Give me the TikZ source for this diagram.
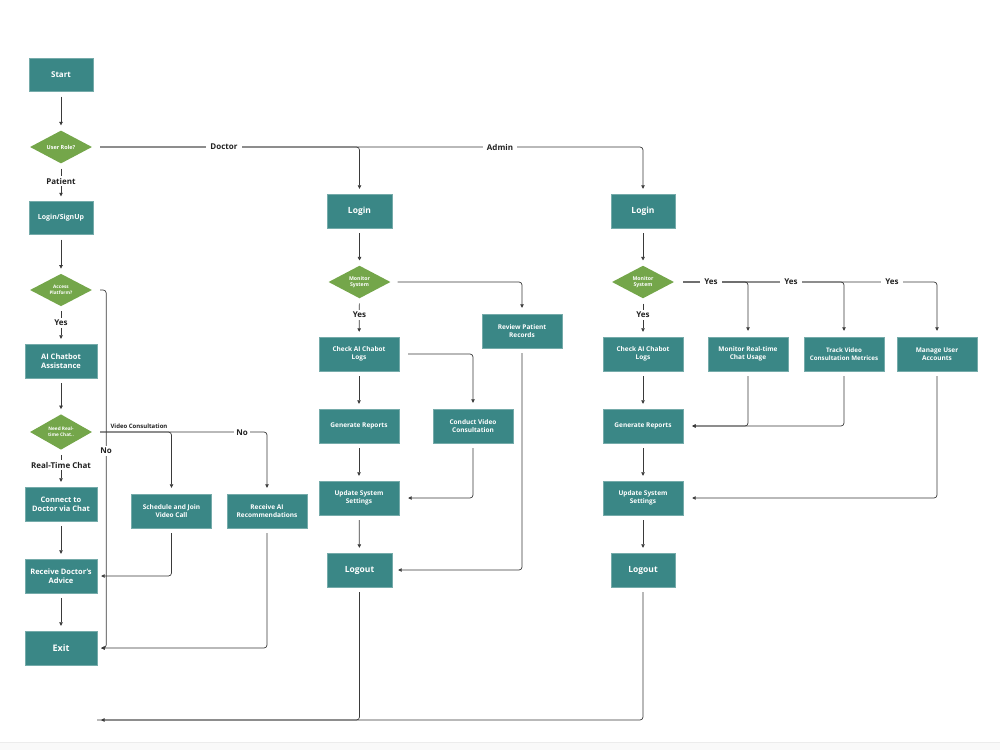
\documentclass[tikz,border=0pt]{standalone}
\usepackage{fontspec}
\setmainfont{Open Sans}
\usetikzlibrary{shapes.geometric,arrows.meta}
\definecolor{teal1}{HTML}{3A8786}
\definecolor{green1}{HTML}{74A64A}
\definecolor{linecol}{HTML}{3A3A3A}
\definecolor{lblcol}{HTML}{222222}
\tikzset{
  box/.style={rectangle, fill=teal1, draw=teal1!70!white, line width=0.4pt, text=white, align=center, inner sep=1pt, minimum height=34pt, font=\fontsize{6.5}{8.2}\selectfont\bfseries},
  dia/.style={diamond, fill=green1, text=white, align=center, inner sep=0pt, minimum width=62pt, minimum height=32pt, font=\fontsize{5.2}{6.5}\selectfont\bfseries},
  conn/.style={draw=linecol, line width=0.7pt, -{Triangle[length=3.5pt,width=3.5pt]}, rounded corners=3pt, shorten >=5pt, shorten <=5pt},
  lbl/.style={fill=white, text=lblcol, inner sep=2pt, font=\fontsize{8}{10}\selectfont\bfseries},
}
\begin{document}
\begin{tikzpicture}[x=1pt,y=-1pt]
\path[use as bounding box] (0,0) rectangle (1000,750);
\fill[gray!5] (0,742) rectangle (1000,750);
\draw[gray!15,line width=0.5pt] (0,742) -- (1000,742);

% Patient column
\node[box,minimum width=64pt,minimum height=33pt,font=\fontsize{8}{10}\selectfont\bfseries] (start) at (61,75) {Start};
\node[dia,font=\fontsize{5.5}{7}\selectfont\bfseries] (role) at (61,147) {User Role?};
\node[box,minimum width=64pt,minimum height=33pt,font=\fontsize{7}{9}\selectfont\bfseries] (login1) at (61,218) {Login/SignUp};
\node[dia,font=\fontsize{4.7}{6}\selectfont\bfseries] (access) at (61,290) {Access\\Platform?};
\node[box,minimum width=72pt,font=\fontsize{7.5}{9.3}\selectfont\bfseries] (chat) at (61,361) {AI Chatbot\\Assistance};
\node[dia,font=\fontsize{4.7}{6}\selectfont\bfseries] (needrt) at (61,432) {Need Real-\\time Chat..};
\node[box,minimum width=72pt,font=\fontsize{7.5}{9.3}\selectfont\bfseries] (connect) at (61,504) {Connect to\\Doctor via Chat};
\node[box,minimum width=72pt,font=\fontsize{7.5}{9.3}\selectfont\bfseries] (advice) at (61,576) {Receive Doctor’s\\Advice};
\node[box,minimum width=72pt,font=\fontsize{9}{11}\selectfont\bfseries] (exit) at (61,648) {Exit};
\node[box,minimum width=80pt] (sched) at (171.5,511) {Schedule and Join\\Video Call};
\node[box,minimum width=80pt] (airec) at (267,511) {Receive AI\\Recommendations};

% Doctor column
\node[box,minimum width=65pt,font=\fontsize{8.5}{11}\selectfont\bfseries] (dlogin) at (359.5,211) {Login};
\node[dia] (dmon) at (359.5,282) {Monitor\\System};
\node[box,minimum width=80pt] (dcheck) at (359,354) {Check AI Chabot\\Logs};
\node[box,minimum width=80pt] (dreview) at (522,331) {Review Patient\\Records};
\node[box,minimum width=80pt] (dgen) at (359,426) {Generate Reports};
\node[box,minimum width=80pt] (dconduct) at (473,426) {Conduct Video\\Consultation};
\node[box,minimum width=80pt] (dupdate) at (359,498) {Update System\\Settings};
\node[box,minimum width=65pt,font=\fontsize{8.5}{11}\selectfont\bfseries] (dlogout) at (359.5,570) {Logout};

% Admin column
\node[box,minimum width=64pt,font=\fontsize{8.5}{11}\selectfont\bfseries] (alogin) at (643,211) {Login};
\node[dia] (amon) at (643,282) {Monitor\\System};
\node[box,minimum width=80pt] (acheck) at (643,354) {Check AI Chabot\\Logs};
\node[box,minimum width=80pt] (amrt) at (748,354) {Monitor Real-time\\Chat Usage};
\node[box,minimum width=80pt,font=\fontsize{6.2}{8.2}\selectfont\bfseries] (atrack) at (844,354) {Track Video\\Consultation Metrices};
\node[box,minimum width=80pt] (amanage) at (937,354) {Manage User\\Accounts};
\node[box,minimum width=80pt] (agen) at (643,426) {Generate Reports};
\node[box,minimum width=80pt] (aupdate) at (643,498) {Update System\\Settings};
\node[box,minimum width=64pt,font=\fontsize{8.5}{11}\selectfont\bfseries] (alogout) at (643,570) {Logout};

\coordinate (endpt) at (97,720);

% Patient connectors
\draw[conn] (start) -- (role);
\draw[conn] (role) -- (login1);
\draw[conn] (login1) -- (access);
\draw[conn] (access) -- (chat);
\draw[conn] (chat) -- (needrt);
\draw[conn] (needrt) -- (connect);
\draw[conn] (connect) -- (advice);
\draw[conn] (advice) -- (exit);
\draw[conn,shorten <=8pt,shorten >=4pt] (access.east) -- ++(14,0) |- (exit.east);
\draw[conn,shorten <=8pt,shorten >=6pt] (needrt.east) -| (sched.north);
\draw[conn,shorten <=8pt,shorten >=6pt] (needrt.east) -| (airec.north);
\draw[conn,shorten >=4pt] (sched.south) |- (advice.east);
\draw[conn,shorten >=4pt] (airec.south) |- (exit.east);

% Role branches
\draw[conn,shorten <=8pt] (role.east) -| (alogin.north);
\draw[conn,shorten <=8pt] (role.east) -| (dlogin.north);

% Doctor connectors
\draw[conn] (dlogin) -- (dmon);
\draw[conn] (dmon) -- (dcheck);
\draw[conn,shorten <=7pt,shorten >=6pt] (dmon.east) -| (dreview.north);
\draw[conn,shorten <=9pt,shorten >=6pt] (dcheck.east) -| (dconduct.north);
\draw[conn] (dcheck) -- (dgen);
\draw[conn] (dgen) -- (dupdate);
\draw[conn,shorten >=9pt] (dconduct.south) |- (dupdate.east);
\draw[conn] (dupdate) -- (dlogout);
\draw[conn,shorten >=6pt] (dreview.south) |- (dlogout.east);
\draw[conn,-,shorten >=0pt] (dlogout.south) |- (endpt);

% Admin connectors
\draw[conn] (alogin) -- (amon);
\draw[conn] (amon) -- (acheck);
\draw[conn,shorten <=9pt,shorten >=6pt] (amon.east) -| (amrt.north);
\draw[conn,shorten <=9pt,shorten >=6pt] (amon.east) -| (atrack.north);
\draw[conn,shorten <=9pt,shorten >=6pt] (amon.east) -| (amanage.north);
\draw[conn] (acheck) -- (agen);
\draw[conn,shorten >=9pt] (amrt.south) |- (agen.east);
\draw[conn,shorten >=9pt] (atrack.south) |- (agen.east);
\draw[conn] (agen) -- (aupdate);
\draw[conn,shorten >=9pt] (amanage.south) |- (aupdate.east);
\draw[conn] (aupdate) -- (alogout);
\draw[conn,shorten >=4pt] (alogout.south) |- (endpt);

% Labels
\node[lbl] (lpatient) at (61,181) {Patient};
\node[lbl] (lyes1) at (61,323) {Yes};
\node[lbl] (lrtc) at (61,465) {Real-Time Chat};
\node[lbl] (lno1) at (106,451) {No};
\node[text=lblcol,inner sep=1pt,font=\fontsize{6}{7.5}\selectfont\bfseries] (lvid) at (139,426.5) {Video Consultation};
\node[lbl] (lno2) at (242,433) {No};
\node[lbl,inner sep=4pt] (ldoc) at (224,147) {Doctor};
\node[lbl,inner sep=4pt] (ladm) at (500,147) {Admin};
\node[lbl] (lyes2) at (359.5,315) {Yes};
\node[lbl] (lyes3) at (643,315) {Yes};
\node[lbl,inner sep=4pt] (lyes4) at (711,282) {Yes};
\node[lbl,inner sep=4pt] (lyes5) at (791,282) {Yes};
\node[lbl,inner sep=4pt] (lyes6) at (892,282) {Yes};
\end{tikzpicture}
\end{document}
